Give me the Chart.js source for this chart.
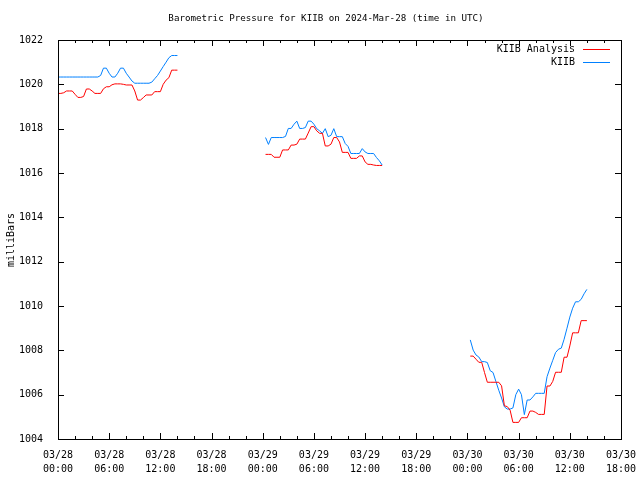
<!DOCTYPE html>
<html>
<head>
<meta charset="utf-8">
<title>Barometric Pressure KIIB</title>
<script src="https://cdn.jsdelivr.net/npm/chart.js@4.4.1/dist/chart.umd.min.js"></script>
<style>
    body { margin: 0; background: #ffffff; }
    #wrap { width: 640px; height: 480px; }
</style>
</head>
<body>
<div id="wrap"><canvas id="pressureChart" width="640" height="480"></canvas></div>
<script>
// Hours since 03/28 00:00 UTC, one entry every 20 minutes, per reporting block
const seg1Hours = [0, 0.33, 0.67, 1, 1.33, 1.67, 2, 2.33, 2.67, 3, 3.33, 3.67, 4, 4.33, 4.67,
    5, 5.33, 5.67, 6, 6.33, 6.67, 7, 7.33, 7.67, 8, 8.33, 8.67, 9, 9.33, 9.67,
    10, 10.33, 10.67, 11, 11.33, 11.67, 12, 12.33, 12.67, 13, 13.33, 13.67, 14];
const seg2Hours = [24.33, 24.67, 25, 25.33, 25.67, 26, 26.33, 26.67, 27, 27.33, 27.67, 28, 28.33, 28.67,
    29, 29.33, 29.67, 30, 30.33, 30.67, 31, 31.33, 31.67, 32, 32.33, 32.67, 33, 33.33,
    33.67, 34, 34.33, 34.67, 35, 35.33, 35.67, 36, 36.33, 36.67, 37, 37.33, 37.67, 38];
const seg3Hours = [48.33, 48.67, 49, 49.33, 49.67, 50, 50.33, 50.67, 51, 51.33, 51.67, 52, 52.33, 52.67,
    53, 53.33, 53.67, 54, 54.33, 54.67, 55, 55.33, 55.67, 56, 56.33, 56.67, 57, 57.33,
    57.67, 58, 58.33, 58.67, 59, 59.33, 59.67, 60, 60.33, 60.67, 61, 61.33, 61.67, 62];

// KIIB Analysis (red)
const seg1Analysis = [1019.59, 1019.59, 1019.62, 1019.7, 1019.7, 1019.7, 1019.55, 1019.41, 1019.41, 1019.45,
    1019.79, 1019.79, 1019.7, 1019.59, 1019.59, 1019.59, 1019.8, 1019.89, 1019.89, 1019.98,
    1020.02, 1020.02, 1020.02, 1020.0, 1019.97, 1019.97, 1019.97, 1019.7, 1019.29, 1019.29,
    1019.4, 1019.52, 1019.52, 1019.52, 1019.67, 1019.67, 1019.67, 1020.0, 1020.19, 1020.3,
    1020.64, 1020.64, 1020.64];
const seg2Analysis = [1016.84, 1016.84, 1016.84, 1016.71, 1016.71, 1016.71, 1017.04, 1017.04, 1017.04, 1017.26,
    1017.26, 1017.3, 1017.53, 1017.53, 1017.53, 1017.8, 1018.09, 1018.09, 1017.9, 1017.79,
    1017.79, 1017.22, 1017.22, 1017.3, 1017.6, 1017.6, 1017.4, 1016.93, 1016.93, 1016.93,
    1016.66, 1016.66, 1016.66, 1016.77, 1016.77, 1016.5, 1016.39, 1016.39, 1016.36, 1016.34,
    1016.34, 1016.34];
const seg3Analysis = [1007.74, 1007.74, 1007.6, 1007.46, 1007.46, 1007.0, 1006.56, 1006.56, 1006.56, 1006.56,
    1006.56, 1006.4, 1005.5, 1005.46, 1005.3, 1004.75, 1004.75, 1004.75, 1004.96, 1004.96,
    1004.96, 1005.26, 1005.26, 1005.2, 1005.11, 1005.11, 1005.11, 1006.39, 1006.39, 1006.6,
    1007.01, 1007.01, 1007.01, 1007.69, 1007.69, 1008.2, 1008.79, 1008.79, 1008.79, 1009.34,
    1009.34, 1009.34];

// KIIB observations (blue)
const seg1Obs = [1020.33, 1020.33, 1020.33, 1020.33, 1020.33, 1020.33, 1020.33, 1020.33, 1020.33, 1020.33,
    1020.33, 1020.33, 1020.33, 1020.33, 1020.33, 1020.4, 1020.73, 1020.73, 1020.5, 1020.33,
    1020.33, 1020.5, 1020.73, 1020.73, 1020.5, 1020.33, 1020.15, 1020.05, 1020.05, 1020.05,
    1020.05, 1020.05, 1020.05, 1020.1, 1020.25, 1020.4, 1020.6, 1020.8, 1021.0, 1021.2,
    1021.3, 1021.3, 1021.3];
const seg2Obs = [1017.6, 1017.29, 1017.6, 1017.6, 1017.6, 1017.6, 1017.6, 1017.65, 1018.01, 1018.01,
    1018.2, 1018.34, 1018.01, 1018.01, 1018.05, 1018.34, 1018.34, 1018.2, 1018.0, 1017.9,
    1017.79, 1018.0, 1017.64, 1017.7, 1018.0, 1017.64, 1017.64, 1017.64, 1017.33, 1017.2,
    1016.88, 1016.88, 1016.88, 1016.88, 1017.1, 1016.95, 1016.88, 1016.88, 1016.88, 1016.7,
    1016.55, 1016.36];
const seg3Obs = [1008.47, 1008.01, 1007.79, 1007.7, 1007.49, 1007.49, 1007.45, 1007.08, 1007.0, 1006.6,
    1006.2, 1005.85, 1005.45, 1005.35, 1005.35, 1005.4, 1006.0, 1006.25, 1006.0, 1005.1,
    1005.76, 1005.76, 1005.9, 1006.06, 1006.06, 1006.06, 1006.06, 1006.81, 1007.2, 1007.55,
    1007.9, 1008.05, 1008.1, 1008.5, 1009.0, 1009.5, 1009.9, 1010.19, 1010.19, 1010.3,
    1010.55, 1010.75];

const xTickLabels = [
    ['03/28', '00:00'], ['03/28', '06:00'], ['03/28', '12:00'], ['03/28', '18:00'],
    ['03/29', '00:00'], ['03/29', '06:00'], ['03/29', '12:00'], ['03/29', '18:00'],
    ['03/30', '00:00'], ['03/30', '06:00'], ['03/30', '12:00'], ['03/30', '18:00']
];
const yTicks = [1004, 1006, 1008, 1010, 1012, 1014, 1016, 1018, 1020, 1022];

const FONT = 'DejaVu Sans Mono';

// join the blocks with a null so the line breaks between them
function buildSeries(hourLists, valueLists) {
    const pts = [];
    hourLists.forEach((hours, i) => {
        if (i > 0) pts.push({ x: hours[0] - 0.01, y: null });
        hours.forEach((h, j) => pts.push({ x: h, y: valueLists[i][j] }));
    });
    return pts;
}

// title, y label, legend, frame and inward tick marks (gnuplot look)
const gnuplotDecor = {
    id: 'gnuplotDecor',
    afterDraw(chart) {
        const ctx = chart.ctx;
        const area = chart.chartArea;
        const xs = chart.scales.x;
        const ys = chart.scales.y;
        ctx.save();
        ctx.strokeStyle = '#000000';
        ctx.lineWidth = 1;
        ctx.strokeRect(Math.round(area.left) + 0.5, Math.round(area.top) + 0.5,
            Math.round(area.right - area.left), Math.round(area.bottom - area.top));

        ctx.beginPath();
        for (let h = 0; h <= 66; h += 2) {
            const px = Math.round(xs.getPixelForValue(h)) + 0.5;
            const len = (h % 6 === 0) ? 6 : 3;
            ctx.moveTo(px, area.bottom);
            ctx.lineTo(px, area.bottom - len);
            ctx.moveTo(px, area.top);
            ctx.lineTo(px, area.top + len);
        }
        yTicks.forEach(v => {
            const py = Math.round(ys.getPixelForValue(v)) + 0.5;
            ctx.moveTo(area.left, py);
            ctx.lineTo(area.left + 6, py);
            ctx.moveTo(area.right, py);
            ctx.lineTo(area.right - 6, py);
        });
        ctx.stroke();

        ctx.fillStyle = '#000000';
        ctx.font = '9.2px "' + FONT + '"';
        ctx.textBaseline = 'middle';
        ctx.textAlign = 'center';
        ctx.fillText('Barometric Pressure for KIIB on 2024-Mar-28 (time in UTC)', 326, 19);

        ctx.font = '10px "' + FONT + '"';
        ctx.save();
        ctx.translate(11, 240);
        ctx.rotate(-Math.PI / 2);
        ctx.fillText('milliBars', 0, 0);
        ctx.restore();

        ctx.textAlign = 'right';
        chart.data.datasets.forEach((ds, i) => {
            const y = 49 + i * 13;
            ctx.fillStyle = '#000000';
            ctx.fillText(ds.label, 575, y);
            ctx.strokeStyle = ds.borderColor;
            ctx.beginPath();
            ctx.moveTo(583, y + 0.5);
            ctx.lineTo(610, y + 0.5);
            ctx.stroke();
        });
        ctx.restore();
    }
};

const ctx = document.getElementById('pressureChart').getContext('2d');
new Chart(ctx, {
    type: 'line',
    data: {
        datasets: [{
            label: 'KIIB Analysis',
            data: buildSeries([seg1Hours, seg2Hours, seg3Hours], [seg1Analysis, seg2Analysis, seg3Analysis]),
            borderColor: '#ff0000',
            borderWidth: 1,
            pointRadius: 0,
            tension: 0,
            spanGaps: false
        }, {
            label: 'KIIB',
            data: buildSeries([seg1Hours, seg2Hours, seg3Hours], [seg1Obs, seg2Obs, seg3Obs]),
            borderColor: '#0080ff',
            borderWidth: 1,
            pointRadius: 0,
            tension: 0,
            spanGaps: false
        }]
    },
    options: {
        responsive: false,
        animation: false,
        layout: { padding: { top: 40, right: 19, left: 0, bottom: 0 } },
        plugins: {
            legend: { display: false },
            tooltip: { enabled: false },
            title: { display: false }
        },
        scales: {
            x: {
                type: 'linear',
                min: 0,
                max: 66,
                grid: { display: false },
                border: { display: false },
                afterFit: scale => { scale.height = 41; },
                afterBuildTicks: scale => {
                    scale.ticks = xTickLabels.map((_, i) => ({ value: i * 6 }));
                },
                ticks: {
                    font: { family: FONT, size: 10, lineHeight: 1.4 },
                    color: '#000000',
                    padding: 1,
                    maxRotation: 0,
                    autoSkip: false,
                    callback: (v, i) => xTickLabels[i]
                }
            },
            y: {
                min: 1004,
                max: 1022,
                grid: { display: false },
                border: { display: false },
                afterFit: scale => { scale.width = 58; },
                afterBuildTicks: scale => {
                    scale.ticks = yTicks.map(v => ({ value: v }));
                },
                ticks: {
                    font: { family: FONT, size: 10 },
                    color: '#000000',
                    padding: 7,
                    callback: v => String(v)
                }
            }
        }
    },
    plugins: [gnuplotDecor]
});
</script>
</body>
</html>
